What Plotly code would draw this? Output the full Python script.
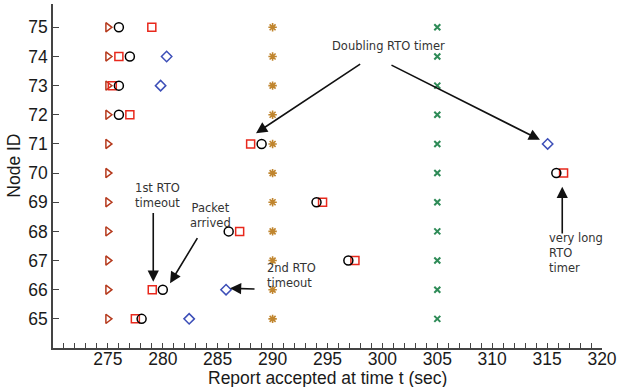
import plotly.graph_objects as go

nodes = [65, 66, 67, 68, 69, 70, 71, 72, 73, 74, 75]
t_start = [275, 275, 275, 275, 275, 275, 275, 275, 275, 275, 275]
t_circle = [278.07, 280.0, 296.9, 286.0, 294.0, 315.84, 289.0, 276.0, 276.0, 277.0, 276.0]
t_square = [277.5, 279.04, 297.5, 287.0, 294.55, 316.5, 288.0, 277.0, 275.4, 276.0, 279.0]
diamond_nodes = [65, 66, 71, 73, 74]
t_diamond = [282.4, 285.76, 315.05, 279.8, 280.35]
t_star = [290, 290, 290, 290, 290, 290, 290, 290, 290, 290, 290]
t_cross = [305, 305, 305, 305, 305, 305, 305, 305, 305, 305, 305]

x_ticks = [275, 280, 285, 290, 295, 300, 305, 310, 315, 320]
y_ticks = [65, 66, 67, 68, 69, 70, 71, 72, 73, 74, 75]

fig = go.Figure()

def add(x, y, symbol, color, size, width=1.5):
    fig.add_trace(go.Scatter(x=x, y=y, mode="markers", showlegend=False,
                             marker=dict(symbol=symbol, size=size, color=color,
                                         line=dict(color=color, width=width))))

add(t_start, nodes, "triangle-right-open", "#b5391c", 8)
add(t_star, nodes, "asterisk-open", "#c0852e", 7, 1.6)
add(t_cross, nodes, "x-thin-open", "#2e8b57", 6, 2)
add(t_diamond, diamond_nodes, "diamond-open", "#3d4fb8", 8)
add(t_square, nodes, "square-open", "#e8281c", 8)
add(t_circle, nodes, "circle-open", "#000000", 9)

TXT = dict(family="DejaVu Sans", size=11.5, color="#333333")

def arrow(x0, y0, x1, y1):
    fig.add_annotation(x=x1, y=y1, ax=x0, ay=y0, xref="x", yref="y", axref="x", ayref="y",
                       text="", showarrow=True, arrowhead=2, arrowsize=1.4, arrowwidth=1.6,
                       arrowcolor="#111111", standoff=0, startstandoff=0)

def label(x, y, text, xanchor="center"):
    fig.add_annotation(x=x, y=y, xref="x", yref="y", text=text, showarrow=False,
                       font=TXT, xanchor=xanchor, yanchor="middle", align="left" if xanchor == "left" else "center")

label(300.51, 74.36, "Doubling RTO timer")
arrow(298.11, 73.77, 288.49, 71.37)
arrow(300.69, 73.73, 314.35, 71.14)

label(279.56, 69.23, "1st RTO<br>timeout")
arrow(279.13, 68.68, 279.13, 66.27)

label(284.3, 68.55, "Packet<br>arrived")
arrow(283.23, 67.82, 280.66, 66.22)

label(289.31, 66.47, "2nd RTO<br>timeout", xanchor="left")
arrow(288.49, 66.02, 286.12, 66.05)

label(314.96, 67.26, "very long<br>RTO<br>timer", xanchor="left")
arrow(316.38, 67.88, 316.38, 69.53)

AX = dict(family="Liberation Sans, Arial", size=17.5, color="#1a1a1a")

# axis titles
fig.add_annotation(x=0.5, y=-0.087, xref="paper", yref="paper", text="Report accepted at time t (sec)",
                   showarrow=False, font=AX, xanchor="center", yanchor="middle")
fig.add_annotation(x=-0.071, y=0.53, xref="paper", yref="paper", text="Node ID", textangle=-90,
                   showarrow=False, font=AX, xanchor="center", yanchor="middle")

fig.update_layout(
    width=617, height=387,
    margin=dict(l=53, r=15, t=4, b=39),
    plot_bgcolor="white", paper_bgcolor="white",
    xaxis=dict(range=[270, 320], tickvals=x_ticks, ticktext=[str(v) for v in x_ticks],
               ticks="inside", ticklen=5, tickwidth=1, tickcolor="#444444",
               minor=dict(dtick=1, tick0=270, ticks="inside", ticklen=5, tickwidth=1, tickcolor="#444444"),
               showgrid=False, zeroline=False, showline=True, linecolor="#444444", linewidth=1.5,
               automargin=False, ticklabelstandoff=-6, tickfont=AX),
    yaxis=dict(range=[64, 75.8], tickvals=y_ticks, ticktext=[str(v) for v in y_ticks],
               ticks="inside", ticklen=6, tickwidth=1, tickcolor="#444444",
               showgrid=False, zeroline=False, showline=True, linecolor="#444444", linewidth=1.5,
               automargin=False, tickfont=AX),
)

fig.write_html("out.html")
